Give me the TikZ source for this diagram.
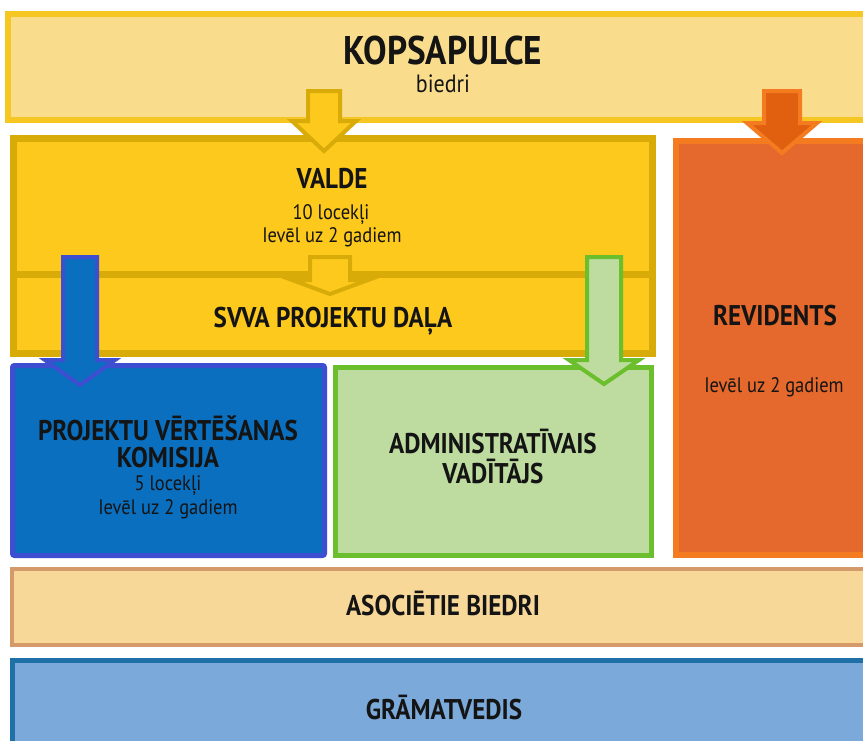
\documentclass[tikz,border=0pt]{standalone}
\usepackage{fontspec}
\setmainfont{PT Sans}[FakeStretch=0.88]
\definecolor{txt}{HTML}{141414}
\definecolor{kopF}{HTML}{FADD8C}
\definecolor{kopD}{HTML}{F6C622}
\definecolor{valF}{HTML}{FDC91C}
\definecolor{valD}{HTML}{D8AB08}
\definecolor{revF}{HTML}{E5692D}
\definecolor{revD}{HTML}{F47B20}
\definecolor{oarF}{HTML}{E0600F}
\definecolor{proF}{HTML}{0A6FBF}
\definecolor{proD}{HTML}{3D4FD0}
\definecolor{admF}{HTML}{BEDC9F}
\definecolor{admD}{HTML}{6CBF2C}
\definecolor{asoF}{HTML}{F8D899}
\definecolor{asoD}{HTML}{D49A6A}
\definecolor{graF}{HTML}{7BAADA}
\definecolor{graD}{HTML}{1E70A6}
\newcommand\blkarrow[8]{%
  \filldraw[fill=#7, draw=#8, line width=4pt, line join=miter]
    (#1-#5,#2) -- (#1+#5,#2) -- (#1+#5,#3) -- (#1+#6,#3) -- (#1,#4)
    -- (#1-#6,#3) -- (#1-#5,#3) -- cycle;}
\tikzset{
  hd/.style={font=\fontsize{28.5}{30}\selectfont\bfseries, text=txt, inner sep=0pt, anchor=base},
  bighd/.style={font=\fontsize{40}{42}\selectfont\bfseries, text=txt, inner sep=0pt, anchor=base},
  sub/.style={font=\fontsize{21}{24}\selectfont, text=txt, inner sep=0pt, anchor=base},
}
\begin{document}
\begin{tikzpicture}[x=1pt,y=-1pt]
\useasboundingbox (0,0) rectangle (863,740);
\clip (0,0) rectangle (863,740);
\fill[white] (0,0) rectangle (863,740);
% Kopsapulce
\filldraw[fill=kopF, draw=kopD, line width=6pt] (8,14) rectangle (880,120);
% Valde
\filldraw[fill=valF, draw=valD, line width=7pt] (13.5,138.5) rectangle (652.5,353.5);
\draw[valD, line width=7pt] (13.5,274) -- (652.5,274);
% Revidents
\filldraw[fill=revF, draw=revD, line width=6pt] (676,141) rectangle (880,555);
% arrows from Kopsapulce
\blkarrow{324}{91}{121}{151}{16}{32}{valF}{valD}
\blkarrow{782}{91}{123}{153}{18}{35}{oarF}{revD}
% Valde -> SVVA
\blkarrow{330}{257}{280}{294}{20}{38}{valF}{valD}
% Projektu & Admin boxes
\filldraw[fill=proF, draw=proD, line width=5pt, rounded corners=2pt] (12.5,365.5) rectangle (324.5,555.5);
\filldraw[fill=admF, draw=admD, line width=5pt] (335.5,367.5) rectangle (651.5,555.5);
% blue & green arrows
\blkarrow{80}{257}{360}{385}{17}{35}{proF}{proD}
\blkarrow{604}{257}{360}{384}{17}{35}{admF}{admD}
% Asocietie, Gramatvedis
\filldraw[fill=asoF, draw=asoD, line width=4pt] (12,569) rectangle (880,645);
\filldraw[fill=graF, draw=graD, line width=5pt] (12.5,660.5) rectangle (880,760);
% texts
\node[bighd] (kop) at (443,64) {KOPSAPULCE};
\node[sub, font=\fontsize{25}{28}\selectfont] (kopb) at (443,92) {biedri};
\node[hd] (val) at (332,188) {VALDE};
\node[sub] (val1) at (331,219) {10 locekļi};
\node[sub] (val2) at (332,242) {Ievēl uz 2 gadiem};
\node[hd] (svva) at (333,327) {SVVA PROJEKTU DAĻA};
\node[hd] (rev) at (775,325) {REVIDENTS};
\node[sub] (rev2) at (774,392) {Ievēl uz 2 gadiem};
\node[hd] (pro1) at (168,440) {PROJEKTU VĒRTĒŠANAS};
\node[hd] (pro2) at (168,467) {KOMISIJA};
\node[sub] (pro3) at (168,490) {5 locekļi};
\node[sub] (pro4) at (168,514) {Ievēl uz 2 gadiem};
\node[hd] (adm1) at (493,453) {ADMINISTRATĪVAIS};
\node[hd] (adm2) at (493,483) {VADĪTĀJS};
\node[hd] (aso) at (443,615) {ASOCIĒTIE BIEDRI};
\node[hd] (gra) at (444,719) {GRĀMATVEDIS};
\end{tikzpicture}
\end{document}
